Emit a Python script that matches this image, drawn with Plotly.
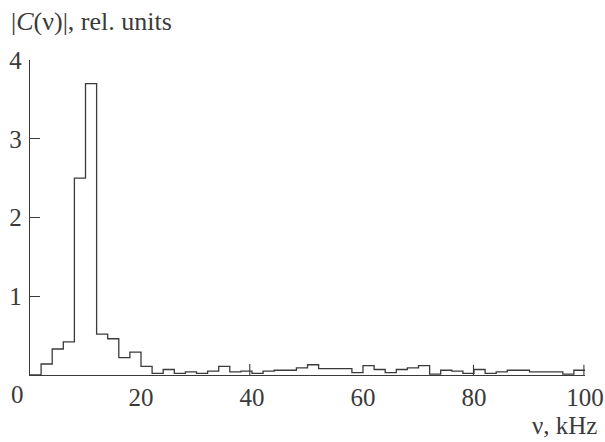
import plotly.graph_objects as go

# 2-kHz bins, left edges 0..98
bin_width = 2.0
bin_left = [i * 2 for i in range(50)]
amplitude = [
    0.00, 0.14, 0.33, 0.42, 2.50, 3.70, 0.52, 0.46, 0.22, 0.29,
    0.11, 0.02, 0.07, 0.02, 0.04, 0.02, 0.05, 0.11, 0.04, 0.05,
    0.02, 0.05, 0.06, 0.06, 0.09, 0.13, 0.08, 0.08, 0.08, 0.03,
    0.12, 0.07, 0.03, 0.07, 0.09, 0.12, 0.01, 0.06, 0.05, 0.02,
    0.07, 0.02, 0.04, 0.06, 0.06, 0.04, 0.04, 0.04, 0.01, 0.06,
]
spike_x = [39.6, 79.9, 99.8]
spike_h = [0.14, 0.13, 0.13]

x_ticks = [20, 40, 60, 80, 100]
y_ticks = [1, 2, 3, 4]

FONT = "Liberation Serif"
INK = "#3a3a3a"
FS = 25

# step outline
sx = list(bin_left) + [bin_left[-1] + bin_width]
sy = list(amplitude) + [amplitude[-1]]

fig = go.Figure()
fig.add_trace(go.Scatter(x=sx, y=sy, mode="lines", line=dict(shape="hv", color=INK, width=1.3),
                         hoverinfo="skip", showlegend=False))
# thin spikes
px, py = [], []
for xv, hv in zip(spike_x, spike_h):
    px += [xv, xv, None]
    py += [0, hv, None]
fig.add_trace(go.Scatter(x=px, y=py, mode="lines", line=dict(color=INK, width=1.1),
                         hoverinfo="skip", showlegend=False))

fig.update_layout(
    width=605, height=442,
    margin=dict(l=30, r=20, t=60, b=67, autoexpand=False),
    paper_bgcolor="white", plot_bgcolor="white",
    font=dict(family=FONT, size=FS, color=INK),
    xaxis=dict(range=[0, 100], showgrid=False, zeroline=False, showline=True, linecolor=INK,
               linewidth=1.3, tickvals=x_ticks, ticks="", ticklabelstandoff=0, automargin=False,
               tickfont=dict(family=FONT, size=FS, color=INK)),
    yaxis=dict(range=[0, 4], showgrid=False, zeroline=False, showline=True, linecolor=INK,
               linewidth=1.3, tickvals=y_ticks, ticks="inside", ticklen=10, tickcolor=INK,
               tickwidth=1.3, ticklabelstandoff=2, automargin=False,
               tickfont=dict(family=FONT, size=FS, color=INK)),
    annotations=[
        dict(text="|<i>C</i>(ν)|, rel. units", xref="paper", yref="paper",
             x=-0.038, y=1 + (60 - 21) / 315, xanchor="left", yanchor="middle",
             showarrow=False, font=dict(family=FONT, size=26, color=INK)),
        dict(text="ν, kHz", xref="paper", yref="paper",
             x=(599 - 30) / 555, y=(375 - 441) / 315, xanchor="right", yanchor="bottom",
             showarrow=False, font=dict(family=FONT, size=25, color=INK)),
        dict(text="0", xref="paper", yref="paper",
             x=(17 - 30) / 555, y=(375 - 394) / 315, xanchor="center", yanchor="middle",
             showarrow=False, font=dict(family=FONT, size=FS, color=INK)),
    ],
)

fig.write_html("out.html")
